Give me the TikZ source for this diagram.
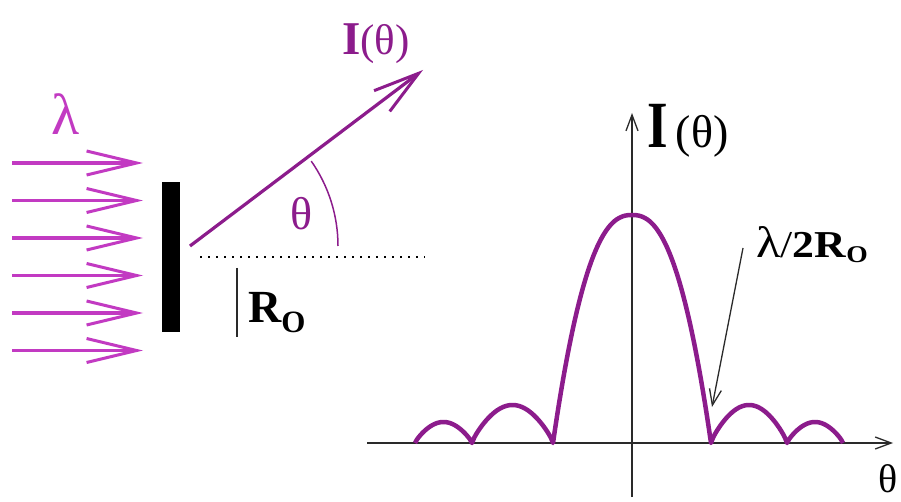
\documentclass[tikz,border=0pt]{standalone}
\usepackage{fontspec}
\setmainfont{Liberation Serif}
\usetikzlibrary{arrows.meta}
\definecolor{beammagenta}{HTML}{C23AC2}
\definecolor{wavepurple}{HTML}{8C1C8C}
\definecolor{axisgray}{HTML}{2A2A2A}
\newcommand{\fsz}[1]{\fontsize{#1}{#1}\selectfont}

\begin{document}
\begin{tikzpicture}[x=1pt, y=-1pt,
    beam/.style={beammagenta, line width=3.2pt,
      -{Straight Barb[length=50pt, width=24pt, line width=3pt]}},
    scattered/.style={wavepurple, line width=3.2pt,
      -{Straight Barb[length=46pt, width=26pt, line width=3pt]}},
    axisline/.style={axisgray, line width=1.3pt,
      -{Straight Barb[length=16pt, width=12pt, line width=1.3pt]}},
    lobe/.style={wavepurple, line width=4.5pt, line join=round}]
  \useasboundingbox (0,0) rectangle (901,502);
  \fill[white] (0,0) rectangle (901,502);
  % incoming plane wave and the slit
  \foreach \y [count=\i] in {163,200.5,238,275.5,313,350.5} {
    \coordinate (in\i) at (12,\y);
    \coordinate (out\i) at (143,\y);
    \draw[beam] (in\i) -- (out\i);
  }
  \node[beammagenta, anchor=base] (lambda) at (66,135) {\fsz{58}λ};
  \fill[black] (162,182) rectangle (180,332);
  % scattered beam
  \coordinate (src) at (190,246);
  \coordinate (dirtip) at (423,70);
  \draw[scattered] (src) -- (dirtip);
  \node[wavepurple, anchor=base west, inner sep=0pt] (itheta) at (342,55)
    {{\fsz{47}\bfseries I}{\fsz{43}(θ)}};
  \draw[wavepurple, line width=1.5pt] (src) ++(0:148) arc[start angle=0, end angle=-35, radius=148];
  \node[wavepurple, anchor=base] (theta) at (302,230) {\fsz{46}θ};
  \coordinate (dotstart) at (200,257);
  \coordinate (dotend) at (425,257);
  \draw[black, line width=2pt, dash pattern=on 2pt off 6pt] (dotstart) -- (dotend);
  \coordinate (tickt) at (237,268);
  \coordinate (tickb) at (237,337);
  \draw[axisgray, line width=1.3pt] (tickt) -- (tickb);
  \node[anchor=base west, inner sep=0pt] (radius) at (248,322)
    {{\fsz{46}\bfseries R}\raisebox{-10pt}{\fsz{31}\bfseries O}};
  % intensity pattern
  \coordinate (xstart) at (367,443);
  \coordinate (xend) at (893,443);
  \coordinate (ystart) at (632,497);
  \coordinate (yend) at (632,113);
  \draw[axisline] (xstart) -- (xend);
  \draw[axisline] (ystart) -- (yend);
  \node[anchor=base west, inner sep=0pt] (iaxis) at (647,148)
    {\scalebox{0.8}[1]{\fsz{66}\bfseries I}\hspace{8pt}{\fsz{46}(θ)}};
  \node[anchor=base] (thaxis) at (888,492) {\fsz{40}θ};
  \draw[lobe] plot[domain=415:472, samples=30] (\x, {443-21*sin(180*(\x-415)/57)^0.8})
    -- plot[domain=472:553, samples=40] (\x, {443-38*sin(180*(\x-472)/81)^0.8})
    -- plot[domain=553:711, samples=80] (\x, {443-228*(1-abs((\x-632)/79)^2.4)})
    -- plot[domain=711:787, samples=40] (\x, {443-38*sin(180*(\x-711)/76)^0.8})
    -- plot[domain=787:843, samples=30] (\x, {443-21*sin(180*(\x-787)/56)^0.8});
  \coordinate (pointfrom) at (743,248);
  \coordinate (pointto) at (712,407);
  \draw[axisline] (pointfrom) -- (pointto);
  \node[anchor=base west, inner sep=0pt] (firstmin) at (756,258)
    {\scalebox{1.15}[1]{{\fsz{44}λ}{\fsz{38}/\bfseries 2R}\raisebox{-5pt}{\fsz{24}\bfseries O}}};
\end{tikzpicture}
\end{document}
